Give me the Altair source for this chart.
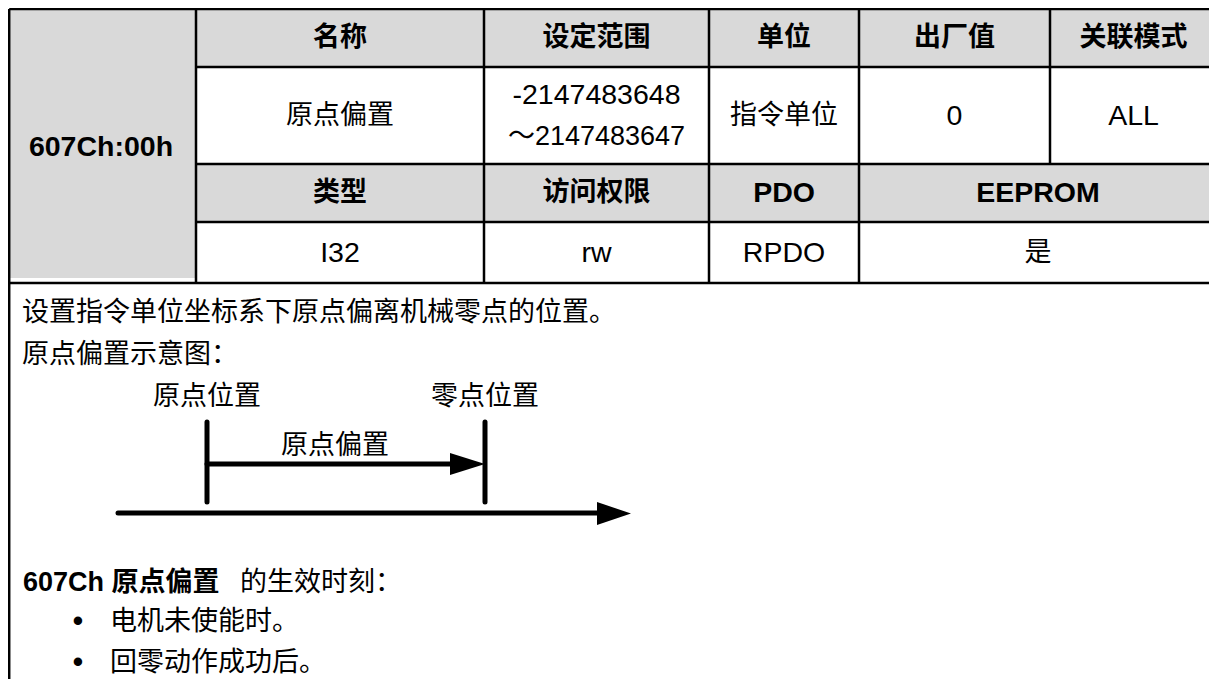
import altair as alt
import pandas as pd

# ---------------- content ----------------
INDEX_LABEL = "607Ch:00h"
ROW1_HEADERS = ["名称", "设定范围", "单位", "出厂值", "关联模式"]
ROW1_VALUES = ["原点偏置", "-2147483648", "指令单位", "0", "ALL"]
RANGE_UPPER = "～2147483647"
ROW2_HEADERS = ["类型", "访问权限", "PDO", "EEPROM"]
ROW2_VALUES = ["I32", "rw", "RPDO", "是"]
DESC_LINES = ["设置指令单位坐标系下原点偏离机械零点的位置。", "原点偏置示意图："]
DIAGRAM_LABELS = ["原点位置", "零点位置"]
OFFSET_LABEL = "原点偏置"
EFFECT_BOLD = "607Ch 原点偏置"
EFFECT_TAIL = "的生效时刻："
BULLET_MARK = "•"
BULLETS = ["电机未使能时。", "回零动作成功后。"]

# ---------------- layout (reference pixel coordinates) ----------------
M = 8
PW, PH = 1201, 671
COLS = [7, 196, 484, 709, 859, 1050, 1217]
ROWS = [9, 67, 164, 222, 283]
GRAY = "#d9d9d9"
FONT = "Liberation Sans, Noto Sans CJK SC"
CJK_SIZE = 27
LATIN_SIZE = 28.5
BULLET_SIZE = 31


def has_cjk(s):
    return any(ord(c) > 0x2E80 for c in s)


def mid(a, b):
    return (a + b) / 2


xs = alt.Scale(domain=[M, M + PW], nice=False, zero=False)
ys = alt.Scale(domain=[M, M + PH], nice=False, zero=False, reverse=True)
X = lambda f="x": alt.X(f"{f}:Q", scale=xs, axis=None)
Y = lambda f="y": alt.Y(f"{f}:Q", scale=ys, axis=None)

# gray cells
gray = pd.DataFrame([
    dict(x=COLS[0], x2=COLS[1], y=ROWS[0], y2=278),
    dict(x=COLS[1], x2=COLS[6], y=ROWS[0], y2=ROWS[1]),
    dict(x=COLS[1], x2=COLS[6], y=ROWS[2], y2=ROWS[3]),
])
gray_layer = alt.Chart(gray).mark_rect(color=GRAY).encode(
    x=X(), x2="x2:Q", y=Y(), y2="y2:Q")

# table lines
LEFT = 9.2
segs = [
    dict(x=LEFT, x2=COLS[6], y=ROWS[0], y2=ROWS[0]),
    dict(x=COLS[1], x2=COLS[6], y=ROWS[1], y2=ROWS[1]),
    dict(x=COLS[1], x2=COLS[6], y=ROWS[2], y2=ROWS[2]),
    dict(x=COLS[1], x2=COLS[6], y=ROWS[3], y2=ROWS[3]),
    dict(x=LEFT, x2=COLS[6], y=ROWS[4], y2=ROWS[4]),
    dict(x=LEFT, x2=LEFT, y=ROWS[0], y2=700),
]
for c in COLS[1:5]:
    segs.append(dict(x=c, x2=c, y=ROWS[0], y2=ROWS[4]))
segs.append(dict(x=COLS[5], x2=COLS[5], y=ROWS[0], y2=ROWS[2]))
line_layer = alt.Chart(pd.DataFrame(segs)).mark_rule(
    color="black", strokeWidth=2.5).encode(
    x=X(), x2="x2:Q", y=Y(), y2="y2:Q")

# diagram
P0, P1 = 207, 485
diag = pd.DataFrame([
    dict(x=P0, x2=P0, y=422, y2=502),
    dict(x=P1, x2=P1, y=422, y2=502),
    dict(x=P0, x2=452, y=464, y2=464),
    dict(x=118, x2=600, y=513, y2=513),
])
diag_layer = alt.Chart(diag).mark_rule(
    color="black", strokeWidth=5, strokeCap="round").encode(
    x=X(), x2="x2:Q", y=Y(), y2="y2:Q")

heads = pd.DataFrame([
    dict(id="a", x=450, y=453, y2=475),
    dict(id="a", x=P1, y=464, y2=464),
    dict(id="b", x=597, y=502, y2=525),
    dict(id="b", x=631, y=513.5, y2=513.5),
])
head_layer = alt.Chart(heads).mark_area(color="black").encode(
    x=X(), y=Y(), y2="y2:Q", detail="id:N")

# texts
texts = []


def add(x, y, t, bold=False, align="center", size=None):
    if size is None:
        size = CJK_SIZE if has_cjk(t) else LATIN_SIZE
    texts.append(dict(x=x, y=y, t=t, bold=bold, anchor=align, size=size))


ccx = [mid(COLS[i], COLS[i + 1]) for i in range(1, 6)]
r1 = mid(ROWS[0], ROWS[1])
r2 = mid(ROWS[1], ROWS[2])
r3 = mid(ROWS[2], ROWS[3])
r4 = mid(ROWS[3], ROWS[4])
for cx, t in zip(ccx, ROW1_HEADERS):
    add(cx, r1, t, bold=True)
for i, (cx, t) in enumerate(zip(ccx, ROW1_VALUES)):
    if i == 1:
        add(cx, 95, t)
        add(cx, 137, RANGE_UPPER)
    else:
        add(cx, r2, t)
add(mid(COLS[0], COLS[1]) - 0.5, 147, INDEX_LABEL, bold=True)
c2x = ccx[:3] + [mid(COLS[4], COLS[6])]
for cx, t in zip(c2x, ROW2_HEADERS):
    add(cx, r3, t, bold=True)
for cx, t in zip(c2x, ROW2_VALUES):
    add(cx, r4, t)

add(22, 313, DESC_LINES[0], align="left")
add(22, 355, DESC_LINES[1], align="left")
add(P0, 397, DIAGRAM_LABELS[0])
add(P1, 397, DIAGRAM_LABELS[1])
add(335, 446, OFFSET_LABEL)
add(23, 583, EFFECT_BOLD, bold=True, align="left")
add(240, 583, EFFECT_TAIL, align="left")
for yy, t in zip([622, 663], BULLETS):
    add(78, yy, BULLET_MARK, size=BULLET_SIZE)
    add(110, yy, t, align="left")

tdf = pd.DataFrame(texts)
text_layers = []
for bold in (True, False):
    for align in ("center", "left"):
        sub = tdf[(tdf["bold"] == bold) & (tdf["anchor"] == align)]
        if len(sub) == 0:
            continue
        text_layers.append(
            alt.Chart(sub.reset_index(drop=True)).mark_text(
                font=FONT, fontWeight="bold" if bold else "normal",
                align=align, baseline="middle", color="black").encode(
                x=X(), y=Y(), text="t:N",
                size=alt.Size("size:Q", scale=None, legend=None)))

chart = alt.layer(gray_layer, line_layer, diag_layer, head_layer, *text_layers).properties(
    width=PW, height=PH, padding=0, background="white",
    autosize=alt.AutoSizeParams(type="none"),
).configure_view(stroke=None)

chart.save("out.html", embed_options={"renderer": "svg", "actions": False})
